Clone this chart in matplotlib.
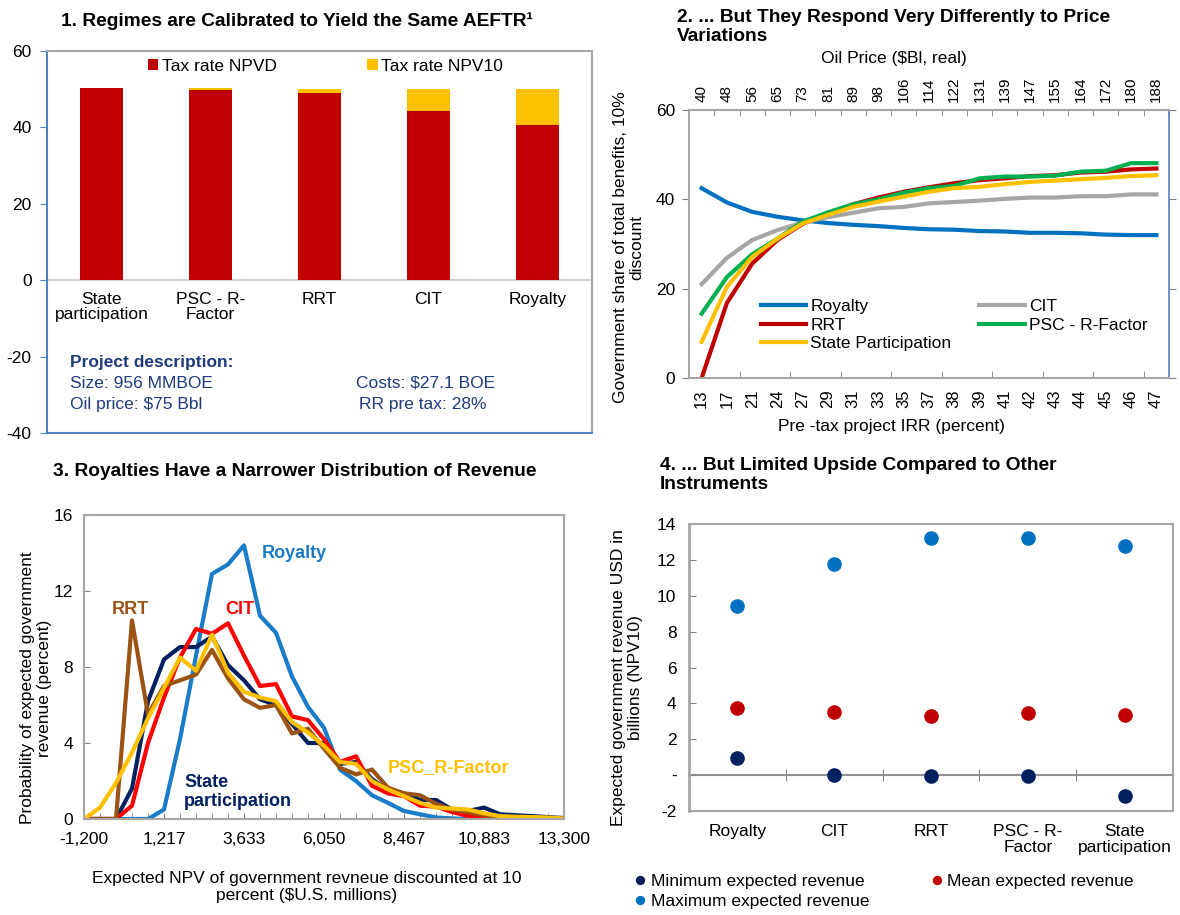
import numpy as np
import matplotlib.pyplot as plt
import matplotlib.transforms as mtransforms

plt.rcParams['font.family'] = ['Liberation Sans', 'DejaVu Sans']
plt.rcParams['font.size'] = 12

W, H = 1180, 915

# ---- panel 1: calibrated tax rates
regimes1 = ['State\nparticipation', 'PSC - R-\nFactor', 'RRT', 'CIT', 'Royalty']
tax_npvd = [50.3, 49.8, 49.1, 44.4, 40.6]
tax_npv10_gap = [0.0, 0.5, 0.9, 5.6, 9.4]

# ---- panel 2: share of benefits vs IRR / oil price
irr = [13, 17, 21, 24, 27, 29, 31, 33, 35, 37, 38, 39, 41, 42, 43, 44, 45, 46, 47]
oil_price = [40, 48, 56, 65, 73, 81, 89, 98, 106, 114, 122, 131, 139, 147, 155, 164, 172, 180, 188]
share_royalty = [42.5, 39.3, 37.2, 36.1, 35.3, 34.7, 34.3, 34.0, 33.6, 33.3, 33.2, 32.9, 32.8, 32.5, 32.5, 32.4, 32.1, 32.0, 32.0]
share_cit = [21.0, 26.9, 30.9, 33.1, 34.8, 36.0, 37.0, 38.0, 38.3, 39.1, 39.4, 39.7, 40.1, 40.4, 40.4, 40.7, 40.7, 41.1, 41.1]
share_rrt = [0.0, 16.8, 25.6, 30.9, 34.5, 36.8, 38.9, 40.4, 41.7, 42.7, 43.6, 44.3, 44.7, 45.2, 45.4, 46.0, 46.2, 46.7, 46.9]
share_psc = [14.4, 22.6, 27.7, 31.2, 35.0, 37.1, 38.9, 40.0, 41.5, 42.5, 43.0, 44.7, 45.1, 45.1, 45.3, 46.2, 46.4, 48.1, 48.1]
share_state = [8.1, 20.4, 27.1, 31.2, 34.6, 36.5, 38.3, 39.5, 40.6, 41.7, 42.5, 42.8, 43.4, 43.9, 44.2, 44.5, 44.8, 45.2, 45.4]

# ---- panel 3: revenue distribution (31 bins from -1,200 to 13,300)
npv_bins = np.linspace(-1200, 13300, 31)
npv_tick_labels = ['-1,200', '1,217', '3,633', '6,050', '8,467', '10,883', '13,300']
prob_royalty = [0, 0, 0, 0, 0, 0.5, 4.2, 8.6, 12.9, 13.4, 14.4, 10.7, 9.8, 7.5, 5.9, 4.8, 2.6, 2.0, 1.25, 0.85,
                0.42, 0.25, 0.08, 0.03, 0, 0, 0, 0, 0, 0, 0]
prob_cit = [0, 0, 0, 0.7, 4.0, 6.4, 8.5, 10.0, 9.75, 10.3, 8.6, 7.0, 7.1, 5.4, 5.2, 4.2, 3.0, 3.3, 1.75, 1.35,
            1.2, 0.7, 0.65, 0.37, 0.16, 0.15, 0.1, 0.05, 0.03, 0.02, 0]
prob_rrt = [0, 0, 0, 10.45, 5.5, 7.0, 7.3, 7.6, 8.9, 7.4, 6.3, 5.85, 6.0, 4.5, 4.75, 3.7, 2.7, 2.35, 2.6, 1.65,
            1.35, 1.25, 0.8, 0.5, 0.35, 0.2, 0.1, 0.08, 0.05, 0.03, 0]
prob_state = [0, 0, 0, 1.6, 6.2, 8.4, 9.05, 9.05, 9.6, 8.1, 7.3, 6.3, 6.0, 5.0, 4.0, 4.0, 2.9, 3.0, 2.1, 1.5,
              1.35, 1.0, 1.0, 0.5, 0.42, 0.6, 0.25, 0.2, 0.15, 0.1, 0.05]
prob_psc = [0, 0.6, 1.9, 3.5, 5.3, 6.9, 8.5, 7.8, 9.7, 7.7, 6.7, 6.4, 6.2, 5.1, 4.55, 3.85, 3.0, 2.9, 2.0, 1.55,
            1.2, 0.85, 0.6, 0.55, 0.5, 0.3, 0.15, 0.12, 0.1, 0.08, 0.03]

# ---- panel 4: min / mean / max expected revenue
regimes4 = ['Royalty', 'CIT', 'RRT', 'PSC - R-\nFactor', 'State\nparticipation']
rev_min = [0.98, 0.0, -0.04, -0.04, -1.17]
rev_mean = [3.72, 3.51, 3.31, 3.48, 3.36]
rev_max = [9.44, 11.77, 13.23, 13.23, 12.8]
rev_ticklabels = ['-2', '-', '2', '4', '6', '8', '10', '12', '14']

NAVY = '#002060'
DARKRED = '#C00000'
GOLD = '#FFC000'
BLUE = '#0070C0'
GRAY = '#A6A6A6'
AXBLUE = '#4F81BD'
TXTBLUE = '#1F3A7D'
TITLE_FS = 13.8


def box(x0, y0, x1, y1):
    return [x0 / W, 1 - y1 / H, (x1 - x0) / W, (y1 - y0) / H]


def ftext(x, y, s, **kw):
    kw.setdefault('ha', 'center')
    kw.setdefault('va', 'center')
    return fig.text(x / W, 1 - y / H, s, **kw)


fig = plt.figure(figsize=(W / 100, H / 100), dpi=100)

# ================= panel 1
ax1 = fig.add_axes(box(47, 51, 592, 433))
x1 = np.arange(len(regimes1))
ax1.bar(x1, tax_npvd, 0.4, color=DARKRED, label='Tax rate NPVD', zorder=2)
ax1.bar(x1, tax_npv10_gap, 0.4, bottom=tax_npvd, color=GOLD, label='Tax rate NPV10', zorder=2)
ax1.axhline(0, color='#D0D0D0', lw=1.5, zorder=1)
ax1.set_xlim(-0.5, 4.5)
ax1.set_ylim(-40, 60)
ax1.set_xticks([])
yt1 = list(range(-40, 61, 20))
ax1.set_yticks(yt1, labels=[str(v) for v in yt1])
for lbl in ax1.get_yticklabels():
    if lbl.get_text() == '0':
        lbl.set_fontsize(15)
ax1.tick_params(axis='y', direction='out', length=5, color=AXBLUE, labelsize=12.5, pad=6)
for side in ['left', 'bottom']:
    ax1.spines[side].set_color(AXBLUE)
    ax1.spines[side].set_linewidth(1.5)
for side in ['top', 'right']:
    ax1.spines[side].set_color(GRAY)
    ax1.spines[side].set_linewidth(1.5)
for i, lab in enumerate(regimes1):
    ax1.text(i, -3.0, lab, ha='center', va='top', fontsize=12.5, linespacing=1.05)
ax1.legend(loc='upper left', bbox_to_anchor=((148 - 47) / 545, (433 - 59) / 382), ncol=2,
           frameon=False, fontsize=12.5, handlelength=0.6, handleheight=0.6, handletextpad=0.2,
           columnspacing=5.2, borderpad=0, borderaxespad=0)

ftext(297, 21, '1. Regimes are Calibrated to Yield the Same AEFTR\u00b9', fontsize=TITLE_FS, fontweight='bold')
ftext(70, 363, 'Project description:', ha='left', fontsize=12.5, fontweight='bold', color=TXTBLUE)
ftext(70, 383, 'Size: 956 MMBOE', ha='left', fontsize=12.5, color=TXTBLUE)
ftext(70, 404, r'Oil price: \$75 Bbl', ha='left', fontsize=12.5, color=TXTBLUE)
ftext(356, 383, r'Costs: \$27.1 BOE', ha='left', fontsize=12.5, color=TXTBLUE)
ftext(359, 404, 'RR pre tax: 28%', ha='left', fontsize=12.5, color=TXTBLUE)

# ================= panel 2
ax2 = fig.add_axes(box(689, 110, 1169, 378))
xi = np.arange(len(irr))
ax2.plot(xi, share_royalty, color=BLUE, lw=3, label='Royalty')
ax2.plot(xi, share_cit, color=GRAY, lw=3, label='CIT')
ax2.plot(xi, share_rrt, color=DARKRED, lw=3, label='RRT')
ax2.plot(xi, share_psc, color='#00B050', lw=3, label='PSC - R-Factor')
ax2.plot(xi, share_state, color=GOLD, lw=3, label='State Participation')
ax2.set_xlim(-0.5, len(irr) - 0.5)
ax2.set_ylim(0, 60)
ax2.set_yticks([0, 20, 40, 60])
ax2.set_xticks(xi, labels=[str(v) for v in irr], rotation=90)
ax2.set_xticks(np.arange(1.5, len(irr) - 0.5, 2), minor=True)
ax2.tick_params(axis='x', which='major', length=0, pad=8, labelsize=12)
ax2.tick_params(axis='x', which='minor', direction='in', length=5, color='#808080')
ax2.tick_params(axis='y', direction='out', length=5, right=True, labelsize=12.5, color='#808080', pad=5)
for t in ax2.yaxis.get_major_ticks():
    t.tick2line.set_color(AXBLUE)
for side in ['left', 'bottom', 'top']:
    ax2.spines[side].set_color(GRAY)
    ax2.spines[side].set_linewidth(1.5)
ax2.spines['right'].set_color(AXBLUE)
ax2.spines['right'].set_linewidth(1.2)
sec2 = ax2.secondary_xaxis('top')
sec2.set_xticks(xi, labels=[str(v) for v in oil_price], rotation=90)
sec2.set_xticks(np.arange(-0.5, len(irr), 1), minor=True)
sec2.tick_params(axis='x', which='major', length=0, pad=6, labelsize=11)
sec2.tick_params(axis='x', which='minor', direction='in', length=4, color='#808080')
sec2.spines['top'].set_color(GRAY)
sec2.spines['top'].set_linewidth(1.5)
h2, l2 = ax2.get_legend_handles_labels()
order = [0, 2, 4, 1, 3]
ax2.legend([h2[k] for k in order], [l2[k] for k in order], loc='upper left',
           bbox_to_anchor=((761 - 689) / 480, (378 - 299) / 268), ncol=2, frameon=False,
           fontsize=12.5, handlelength=2.6, handletextpad=0.25, columnspacing=1.6,
           labelspacing=0.2, borderpad=0, borderaxespad=0)

ftext(677, 27, '2. ... But They Respond Very Differently to Price\nVariations', ha='left',
      fontsize=TITLE_FS, fontweight='bold', linespacing=1.15)
ftext(894, 58, r'Oil Price (\$Bl, real)', fontsize=12.5)
ftext(891, 427, 'Pre -tax project IRR (percent)', fontsize=12.5)
ftext(629, 247, 'Government share of total benefits, 10%\ndiscount', rotation=90, fontsize=12.5,
      ma='center', linespacing=1.1)

# ================= panel 3
ax3 = fig.add_axes(box(84, 515, 564, 819))
ax3.plot(npv_bins, prob_royalty, color='#1A7BC9', lw=3)
ax3.plot(npv_bins, prob_state, color=NAVY, lw=3)
ax3.plot(npv_bins, prob_cit, color='#FF0000', lw=3)
ax3.plot(npv_bins, prob_rrt, color='#9B5314', lw=3)
ax3.plot(npv_bins, prob_psc, color=GOLD, lw=3)
ax3.set_xlim(npv_bins[0], npv_bins[-1])
ax3.set_ylim(0, 16)
ax3.set_yticks([0, 4, 8, 12, 16])
ax3.set_xticks(npv_bins[::5], labels=npv_tick_labels)
ax3.set_xticks(npv_bins, minor=True)
ax3.tick_params(axis='x', which='both', direction='in', length=4, color='#808080', labelsize=12.5, pad=9)
ax3.tick_params(axis='y', direction='in', length=4, color='#808080', labelsize=12.5, pad=8)
for side in ['left', 'bottom', 'top', 'right']:
    ax3.spines[side].set_color(GRAY)
    ax3.spines[side].set_linewidth(1.5)

ftext(295, 471, '3. Royalties Have a Narrower Distribution of Revenue', fontsize=TITLE_FS, fontweight='bold')
ftext(36, 688, 'Probability of expected government\nrevenue (percent)', rotation=90, fontsize=12.5,
      ma='center', linespacing=1.1)
ftext(307, 887, 'Expected NPV of government revneue discounted at 10\n' + r'percent (\$U.S. millions)',
      fontsize=12.5, ma='center', linespacing=1.1)
ftext(262, 554, 'Royalty', ha='left', fontsize=13, fontweight='bold', color='#1A7BC9')
ftext(112, 610, 'RRT', ha='left', fontsize=13, fontweight='bold', color='#9B5314')
ftext(225, 610, 'CIT', ha='left', fontsize=13, fontweight='bold', color='#FF0000')
ftext(184, 792, 'State\nparticipation', ha='left', fontsize=13, fontweight='bold', color=NAVY,
      linespacing=1.1)
ftext(388, 768, 'PSC_R-Factor', ha='left', fontsize=13, fontweight='bold', color=GOLD)

# ================= panel 4
ax4 = fig.add_axes(box(689, 524, 1173, 811))
x4 = np.arange(len(regimes4))
p_min, = ax4.plot(x4, rev_min, 'o', ms=9.5, color=NAVY, label='Minimum expected revenue', zorder=3)
p_mean, = ax4.plot(x4, rev_mean, 'o', ms=9.5, color=DARKRED, label='Mean expected revenue', zorder=3)
p_max, = ax4.plot(x4, rev_max, 'o', ms=9.5, color=BLUE, label='Maximum expected revenue', zorder=3)
ax4.set_xlim(-0.5, 4.5)
ax4.set_ylim(-2, 14)
yt4 = list(range(-2, 15, 2))
ax4.set_yticks(yt4, labels=rev_ticklabels)
ax4.set_xticks([])
ax4.tick_params(axis='y', direction='in', length=5, color='#808080', labelsize=12.5, pad=9)
for side in ['bottom', 'top', 'right']:
    ax4.spines[side].set_color(GRAY)
    ax4.spines[side].set_linewidth(1.5)
ax4.spines['left'].set_color(GRAY)
ax4.spines['left'].set_linewidth(2)
y0, y1 = ax4.get_ylim()
zero4 = ax4.secondary_xaxis((0 - y0) / (y1 - y0))
zero4.set_xticks(np.arange(0.5, 4, 1), labels=[])
zero4.tick_params(axis='x', direction='inout', length=8, color='#808080')
zero4.spines['bottom'].set_color('#909090')
zero4.spines['bottom'].set_linewidth(1.5)
trans4 = mtransforms.blended_transform_factory(ax4.transData, ax4.transAxes)
for i, lab in enumerate(regimes4):
    ax4.text(i, -0.045, lab, transform=trans4, ha='center', va='top', fontsize=12.5, linespacing=1.05)
ax4.legend([p_min, p_max, p_mean], [p_min.get_label(), p_max.get_label(), p_mean.get_label()],
           loc='upper left', bbox_to_anchor=((635 - 689) / 484, (811 - 874) / 287), ncol=2,
           frameon=False, fontsize=12.5, handlelength=0.6, handletextpad=0.3, columnspacing=3.6,
           labelspacing=0.25, markerscale=0.6, borderpad=0, borderaxespad=0)

ftext(660, 475, '4. ... But Limited Upside Compared to Other\nInstruments', ha='left',
      fontsize=TITLE_FS, fontweight='bold', linespacing=1.15)
ftext(627, 678, 'Expected government revenue USD in\nbillions (NPV10)', rotation=90, fontsize=12.5,
      ma='center', linespacing=1.1)

fig.savefig('out.png', dpi=100)
